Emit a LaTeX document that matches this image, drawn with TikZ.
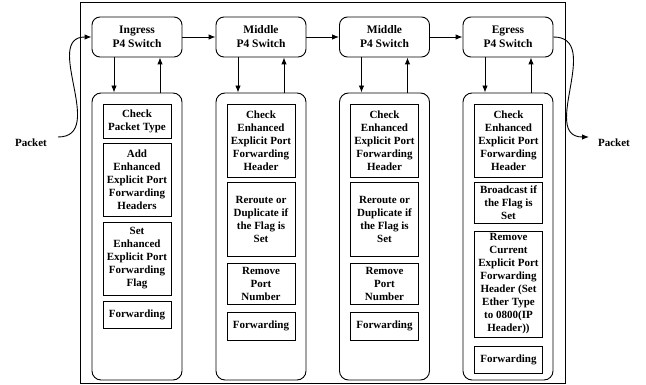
\documentclass[tikz,border=0pt]{standalone}
\usepackage{fontspec}
\setmainfont{Liberation Serif}
\usetikzlibrary{arrows.meta,positioning}

\tikzset{
  switchbox/.style={draw,rounded corners=8pt,minimum width=90pt,minimum height=40pt,
    inner sep=0pt,align=center,font=\fontsize{11.5}{14}\selectfont\bfseries},
  stagebox/.style={draw,rounded corners=9pt,minimum width=90pt,minimum height=287pt,inner sep=0pt},
  taskbox/.style={draw,minimum width=68pt,inner sep=0pt,align=center,
    font=\fontsize{11}{13}\selectfont\bfseries},
  pktlabel/.style={font=\fontsize{11}{13}\selectfont\bfseries,inner sep=0pt},
}

\begin{document}
\begin{tikzpicture}[x=1pt,y=-1pt,>={Latex[length=7pt,width=5.5pt]},line width=0.9pt]
  \useasboundingbox (0,0) rectangle (646,385);

  % Frame
  \draw[line width=1pt] (80,3) rectangle (565,383);

  % Switches
  \node[switchbox] (sw1) at (137,37)   {Ingress\\P4 Switch};
  \node[switchbox] (sw2) at (261,37)   {Middle\\P4 Switch};
  \node[switchbox] (sw3) at (384.5,37) {Middle\\P4 Switch};
  \node[switchbox] (sw4) at (508,37)   {Egress\\P4 Switch};

  % Processing stages
  \node[stagebox] (st1) at (137,236.5)   {};
  \node[stagebox] (st2) at (261,236.5)   {};
  \node[stagebox] (st3) at (384.5,236.5) {};
  \node[stagebox] (st4) at (508,236.5)   {};

  % Ingress tasks
  \node[taskbox,minimum height=34pt] (a1) at (137,121)   {Check\\Packet Type};
  \node[taskbox,minimum height=73pt] (a2) at (137,179.5) {Add\\Enhanced\\Explicit Port\\Forwarding\\Headers};
  \node[taskbox,minimum height=73pt] (a3) at (137,258.5) {Set\\Enhanced\\Explicit Port\\Forwarding\\Flag};
  \node[taskbox,minimum height=27pt] (a4) at (137,314.5) {Forwarding};

  % Middle tasks
  \foreach \i/\x in {2/261,3/384.5} {
    \node[taskbox,minimum height=73pt] (m\i a) at (\x,140.5) {Check\\Enhanced\\Explicit Port\\Forwarding\\Header};
    \node[taskbox,minimum height=74pt] (m\i b) at (\x,219)   {Reroute or\\Duplicate if\\the Flag is\\Set};
    \node[taskbox,minimum height=41pt] (m\i c) at (\x,283.5) {Remove\\Port\\Number};
    \node[taskbox,minimum height=28pt] (m\i d) at (\x,326)   {Forwarding};
  }

  % Egress tasks
  \node[taskbox,minimum height=73pt]  (e1) at (508.5,140.5) {Check\\Enhanced\\Explicit Port\\Forwarding\\Header};
  \node[taskbox,minimum height=41pt]  (e2) at (508.5,202.5) {Broadcast if\\the Flag is\\Set};
  \node[taskbox,minimum height=106pt] (e3) at (508.5,284)   {Remove\\Current\\Explicit Port\\Forwarding\\Header (Set\\Ether Type\\to 0800(IP\\Header))};
  \node[taskbox,minimum height=27pt]  (e4) at (508.5,359.5) {Forwarding};

  % Switch chain
  \draw[->] (sw1) -- (sw2);
  \draw[->] (sw2) -- (sw3);
  \draw[->] (sw3) -- (sw4);

  % Switch <-> stage
  \foreach \i in {1,...,4} {
    \draw[->] ([xshift=-23pt]sw\i.south) -- ([xshift=-23pt]st\i.north);
    \draw[->] ([xshift=23pt]st\i.north) -- ([xshift=23pt]sw\i.south);
  }

  % Packet in / out
  \node[pktlabel] (pin)  at (31,143)  {Packet};
  \node[pktlabel] (pout) at (614,143) {Packet};
  \coordinate (pinend)  at (58,137);
  \coordinate (poutend) at (589,137);
  \draw[->] (pinend) to[out=0,in=180,looseness=1.2] (sw1.west);
  \draw[->] (sw4.east) to[out=0,in=180,looseness=1.2] (poutend);
\end{tikzpicture}
\end{document}
